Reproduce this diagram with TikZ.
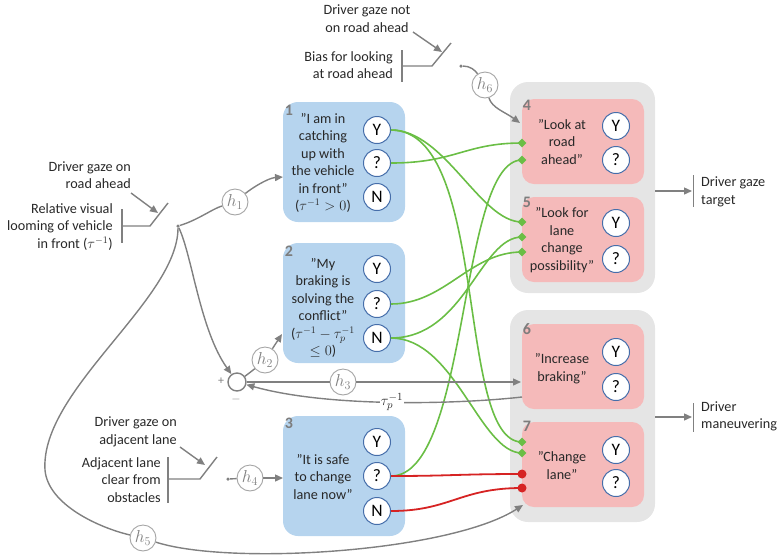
\documentclass[tikz,border=0pt]{standalone}
\usepackage{fontspec}
\setmainfont{Carlito}
\usetikzlibrary{arrows.meta,shapes.geometric}

\definecolor{boxblue}{RGB}{182,212,238}
\definecolor{boxpink}{RGB}{245,186,186}
\definecolor{groupgray}{RGB}{229,229,229}
\definecolor{wiregray}{RGB}{128,128,128}
\definecolor{hgray}{RGB}{165,165,165}
\definecolor{pgreen}{RGB}{106,190,69}
\definecolor{pred}{RGB}{214,35,35}
\definecolor{ringblue}{RGB}{70,110,170}
\definecolor{numgray}{RGB}{125,125,125}
\definecolor{inkgray}{RGB}{40,40,40}

\begin{document}
\begin{tikzpicture}[x=1pt,y=-1pt,
  every node/.style={font=\fontsize{14.2}{17.5}\selectfont, text=inkgray},
  grp/.style={fill=groupgray, rounded corners=18pt, minimum width=145pt, inner sep=0pt},
  bluebox/.style={fill=boxblue, rounded corners=15pt, minimum width=122pt, minimum height=120pt, inner sep=0pt},
  pinkbox/.style={fill=boxpink, rounded corners=12pt, minimum width=122pt, minimum height=85pt, inner sep=0pt},
  answer/.style={circle, draw=ringblue, line width=1pt, fill=white, minimum size=27pt, inner sep=0pt, text=black, font=\fontsize{17.5}{17.5}\selectfont},
  hnode/.style={circle, draw=hgray, line width=0.9pt, fill=white, minimum size=26pt, inner sep=0pt, text=wiregray, font=\fontsize{17}{17}\selectfont},
  boxnum/.style={text=numgray, font=\bfseries\fontsize{16}{16}\selectfont, inner sep=0pt},
  txt/.style={align=center, inner sep=0pt},
  wire/.style={draw=wiregray, line width=1.4pt},
  arr/.style={wire, -{Triangle[length=8pt,width=7pt]}},
  excite/.style={draw=pgreen, line width=1.6pt},
  inhibit/.style={draw=pred, line width=1.8pt},
  port/.style={diamond, fill=pgreen, minimum size=9pt, inner sep=0pt},
  redport/.style={circle, fill=pred, minimum size=9pt, inner sep=0pt},
  junction/.style={circle, fill=wiregray, minimum size=3.5pt, inner sep=0pt},
  signmark/.style={text=wiregray, font=\fontsize{12}{12}\selectfont, inner sep=0pt}]

\useasboundingbox (0,0) rectangle (780,558);

% output groups
\node[grp, minimum height=211pt] (g1) at (582.5,187.5) {};
\node[grp, minimum height=212pt] (g2) at (582.5,416) {};

% situation boxes
\node[bluebox] (b1) at (344,162) {};
\node[bluebox] (b2) at (344,303) {};
\node[bluebox] (b3) at (344,476) {};
% action boxes
\node[pinkbox] (b4) at (583,141.5) {};
\node[pinkbox] (b5) at (583,239.5) {};
\node[pinkbox] (b6) at (583,366.5) {};
\node[pinkbox] (b7) at (583,464.5) {};

% box numbers
\node[boxnum] (num1) at (289,110) {1};
\node[boxnum] (num2) at (289,251) {2};
\node[boxnum] (num3) at (289,423) {3};
\node[boxnum] (num4) at (527,105) {4};
\node[boxnum] (num5) at (527,202) {5};
\node[boxnum] (num6) at (527,329) {6};
\node[boxnum] (num7) at (527,426) {7};

% box texts
\node[txt] (t1) at (323,163) {”I am in\\catching\\up with\\the vehicle\\in front”\\(\(\tau^{-1}>0\))};
\node[txt] (t2) at (323,308) {”My\\braking is\\solving the\\conflict”\\(\(\tau^{-1}-\tau_p^{-1}\)\\\(\leq 0\))};
\node[txt] (t3) at (323,477) {”It is safe\\to change\\lane now”};
\node[txt] (t4) at (562,142) {”Look at\\road\\ahead”};
\node[txt] (t5) at (562,240) {”Look for\\lane\\change\\possibility”};
\node[txt] (t6) at (562,368.5) {”Increase\\braking”};
\node[txt] (t7) at (562,465.5) {”Change\\lane”};

% ports on the action boxes
\coordinate (p4a) at (522,143);
\coordinate (p4b) at (522,160);
\coordinate (p5a) at (522,222);
\coordinate (p5b) at (522,237);
\coordinate (p5c) at (522,252);
\coordinate (p7a) at (522,442);
\coordinate (p7b) at (522,453);
\coordinate (r7a) at (522,474);
\coordinate (r7b) at (522,488);

% answer circles
\node[answer] (y1) at (377,130) {Y};
\node[answer] (q1) at (377,163) {?};
\node[answer] (n1) at (377,197) {N};
\node[answer] (y2) at (377,269) {Y};
\node[answer] (q2) at (377,304) {?};
\node[answer] (n2) at (377,338) {N};
\node[answer] (y3) at (377,442) {Y};
\node[answer] (q3) at (377,476) {?};
\node[answer] (n3) at (377,511) {N};
\node[answer] (y4) at (616,126) {Y};
\node[answer] (q4) at (616,160) {?};
\node[answer] (y5) at (616,223) {Y};
\node[answer] (q5) at (616,259) {?};
\node[answer] (y6) at (616,352) {Y};
\node[answer] (q6) at (616,387) {?};
\node[answer] (y7) at (616,450) {Y};
\node[answer] (q7) at (616,483) {?};

% excitatory links
\draw[excite] (y1.east) .. controls (445,130) and (480,222) .. (p5a);
\draw[excite] (y1.east) .. controls (490,130) and (455,442) .. (p7a);
\draw[excite] (q1.east) .. controls (455,163) and (465,143) .. (p4a);
\draw[excite] (q3.east) .. controls (470,476) and (458,160) .. (p4b);
\draw[excite] (n2.east) .. controls (465,338) and (480,237) .. (p5b);
\draw[excite] (q2.east) .. controls (445,304) and (470,252) .. (p5c);
\draw[excite] (n2.east) .. controls (455,338) and (480,453) .. (p7b);
% inhibitory links
\draw[inhibit] (q3.east) .. controls (450,476) and (460,474) .. (r7a);
\draw[inhibit] (n3.east) .. controls (450,511) and (460,488) .. (r7b);

\node[port] (d4a) at (p4a) {};
\node[port] (d4b) at (p4b) {};
\node[port] (d5a) at (p5a) {};
\node[port] (d5b) at (p5b) {};
\node[port] (d5c) at (p5c) {};
\node[port] (d7a) at (p7a) {};
\node[port] (d7b) at (p7b) {};
\node[redport] (e7a) at (r7a) {};
\node[redport] (e7b) at (r7b) {};

% entry points
\coordinate (in1) at (283,177);
\coordinate (in2) at (282,334);
\coordinate (in3) at (283,478);
\coordinate (in4) at (520,123);
\coordinate (in6) at (521,382);
\coordinate (out6) at (522,397);
\coordinate (in7) at (523,505);

% switch: looming input
\draw[wire] (122,209) -- (122,243);
\draw[wire] (122,226) -- (150,226) -- (168,203);
\draw[arr] (131,193) -- (158,213);
\node[junction] (j1) at (178,226) {};
\node[hnode] (h1) at (235,202) {$h_1$};
\draw[wire] (j1) .. controls (198,220) and (212,209) .. (h1);
\draw[arr] (h1) .. controls (252,188) and (268,178) .. (in1);

% summing junction
\node[circle, draw=wiregray, line width=1.4pt, fill=white, minimum size=18pt, inner sep=0pt] (sum) at (237,382) {};
\node[signmark] (plus) at (221,381) {+};
\node[signmark] (minus) at (236,399) {\(-\)};
\draw[arr] (j1) .. controls (192,255) and (200,330) .. (sum);
\node[hnode] (h2) at (265,360) {$h_2$};
\draw[wire] (sum) .. controls (248,374) and (252,371) .. (h2);
\draw[arr] (h2) -- (in2);
\node[hnode] (h3) at (343,382) {$h_3$};
\draw[wire] (sum) -- (h3);
\draw[arr] (h3) -- (in6);
\draw[arr] (out6) .. controls (460,404) and (330,408) .. (sum);
\node[fill=white, inner sep=1pt, font=\fontsize{15.5}{15.5}\selectfont] (taup) at (392,402) {$\tau_p^{-1}$};

% long path to "change lane"
\node[hnode] (h5) at (143,538) {$h_5$};
\draw[wire] (j1) .. controls (178,300) and (40,390) .. (45,470) .. controls (48,505) and (100,528) .. (h5);
\draw[arr] (h5) .. controls (230,566) and (450,552) .. (in7);

% switch: adjacent lane
\draw[wire] (168,457) -- (168,503);
\draw[wire] (168,479) -- (200,479) -- (217,457);
\draw[arr] (180,447) -- (205,465);
\node[junction] (j4) at (228,479) {};
\node[hnode] (h4) at (250,478) {$h_4$};
\draw[wire] (j4) -- (h4);
\draw[arr] (h4) -- (in3);

% switch: road-ahead bias
\draw[wire] (402,50) -- (402,82);
\draw[wire] (402,66) -- (432,66) -- (451,43);
\draw[arr] (413,32) -- (442,52);
\node[junction] (j6) at (461,66) {};
\node[hnode] (h6) at (485,85) {$h_6$};
\draw[wire] (j6) .. controls (470,66) and (475,70) .. (h6);
\draw[arr] (h6) .. controls (492,108) and (505,112) .. (in4);

% outputs
\coordinate (o1) at (655,191);
\coordinate (o2) at (655,417);
\draw[arr] (o1) -- (692,191);
\draw[wire, line width=1pt] (693,175) -- (693,207);
\draw[arr] (o2) -- (692,417);
\draw[wire, line width=1pt] (693,403) -- (693,432);

% input and output labels
\node[txt, align=right, anchor=east] (cue1) at (131,175) {Driver gaze on\\road ahead};
\node[txt, align=right, anchor=east] (sig1) at (113,227) {Relative visual\\looming of vehicle\\in front (\(\tau^{-1}\))};
\node[txt] (cue6) at (367,18.5) {Driver gaze not\\on road ahead};
\node[txt, align=right, anchor=east] (sig6) at (393,65) {Bias for looking\\at road ahead};
\node[txt, align=right, anchor=east] (cue4) at (177,432) {Driver gaze on\\adjacent lane};
\node[txt, align=right, anchor=east] (sig4) at (161,480) {Adjacent lane\\clear from\\obstacles};
\node[txt, align=left, anchor=west] (outg) at (701,192) {Driver gaze\\target};
\node[txt, align=left, anchor=west] (outm) at (701,416.5) {Driver\\maneuvering};

\end{tikzpicture}
\end{document}
